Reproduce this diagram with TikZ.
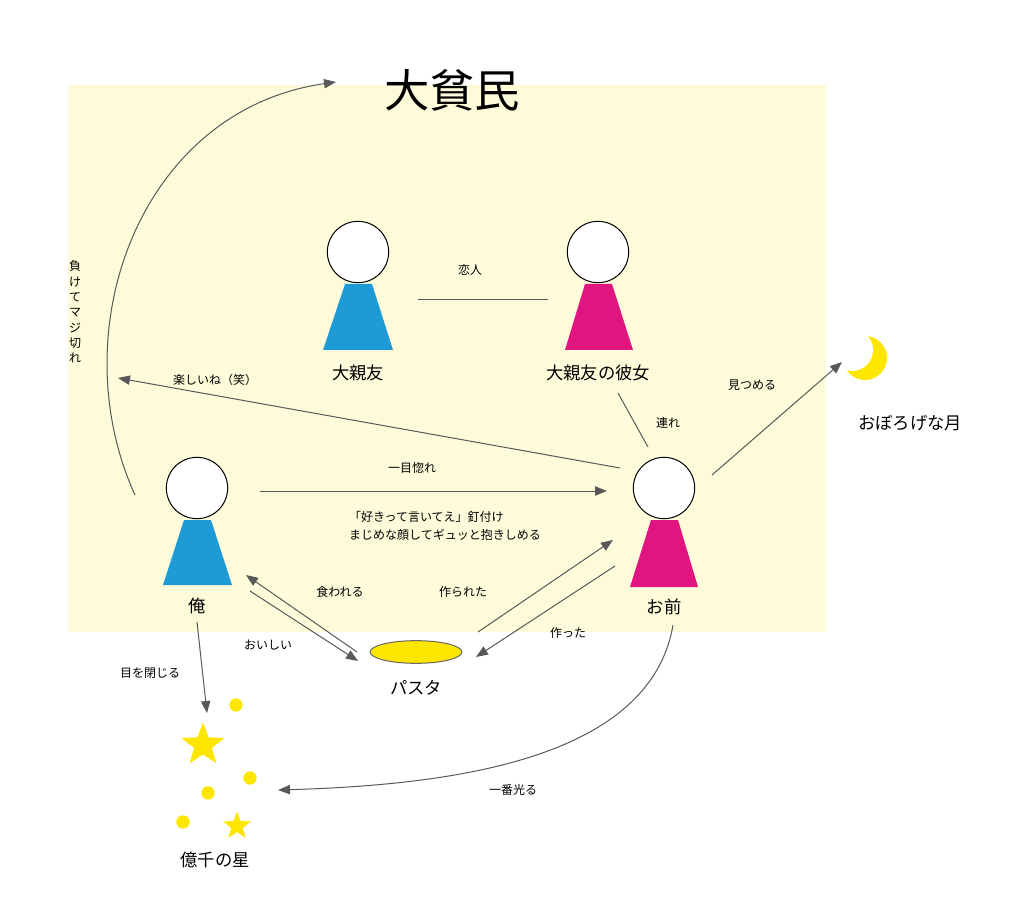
\documentclass[tikz,border=0pt]{standalone}
\usepackage{fontspec}
\setmainfont{Noto Sans CJK JP}
\usetikzlibrary{shapes.geometric,arrows.meta}
\definecolor{bgyel}{RGB}{253,251,218}
\definecolor{kblue}{RGB}{30,155,215}
\definecolor{kpink}{RGB}{224,21,127}
\definecolor{kyel}{RGB}{255,230,0}
\tikzset{every picture/.style={line width=0.75pt},
  lbl/.style={font=\fontsize{9}{10}\selectfont, inner sep=0.75pt},
  pname/.style={font=\fontsize{13}{14}\selectfont, inner sep=0.75pt},
  head/.style={circle, draw, fill=white, minimum size=46pt, inner sep=0pt},
  conn/.style={draw=black!65, -{Triangle[length=9pt,width=7pt]}},
  plain/.style={draw=black!65},
  dot/.style={circle, fill=kyel, inner sep=0pt, minimum size=10pt},
  bigstar/.style={star, star points=5, star point ratio=2.4, fill=kyel, inner sep=0pt}}
\begin{document}
\begin{tikzpicture}[x=0.75pt,y=0.75pt,yscale=-1,xscale=1]
\useasboundingbox (0,0) rectangle (1024,912);
%background
\fill[bgyel] (68,85) rectangle (826,632);

%persons
\fill[kblue] (345,284) -- (372,284) -- (393,350) -- (323,350) -- cycle;
\node[head] (shinyu) at (358,252) {};
\node[pname] (shinyut) at (358,373) {大親友};
\fill[kpink] (585,284) -- (612,284) -- (633,350) -- (565,350) -- cycle;
\node[head] (kanojo) at (598,252) {};
\node[pname] (kanojot) at (598,373) {大親友の彼女};
\fill[kblue] (184,520) -- (211,520) -- (232,585) -- (163,585) -- cycle;
\node[head] (ore) at (197,488) {};
\node[pname] (oret) at (197,606) {俺};
\fill[kpink] (651,520) -- (678,520) -- (698,587) -- (630,587) -- cycle;
\node[head] (omae) at (664,488) {};
\node[pname] (omaet) at (664,607) {お前};

%pasta
\node[ellipse, draw=black!60, fill=kyel, minimum width=69pt, minimum height=17pt, inner sep=0pt] (pasta) at (416,652) {};
\node[pname] (pastat) at (416,688) {パスタ};

%moon
\fill[kyel] (865,358) circle (22);
\fill[white] (852,350) circle (21);
\node[pname] (moont) at (910,423) {おぼろげな月};

%stars
\node[bigstar, minimum size=34pt] (st1) at (203,745) {};
\node[bigstar, minimum size=22pt] (st2) at (237,826) {};
\node[dot] (d1) at (236,705) {};
\node[dot] (d2) at (250,778) {};
\node[dot] (d3) at (208,793) {};
\node[dot] (d4) at (183,822) {};
\node[pname] (start) at (215,860) {億千の星};

\node[font=\fontsize{34}{36}\selectfont, inner sep=0pt] (daihin) at (452,90) {大貧民};

%connectors
\coordinate (c1) at (418,300); \coordinate (c2) at (548,300);
\draw[plain] (c1) -- (c2);
\coordinate (c3) at (620,468); \coordinate (c4) at (118,378);
\draw[conn] (c3) -- (c4);
\coordinate (c5) at (618,393); \coordinate (c6) at (648,447);
\draw[plain] (c5) -- (c6);
\coordinate (c7) at (712,475); \coordinate (c8) at (842,362);
\draw[conn] (c7) -- (c8);
\coordinate (c9) at (260,491); \coordinate (c10) at (607,491);
\draw[conn] (c9) -- (c10);
\coordinate (c11) at (357,652); \coordinate (c12) at (246,575);
\draw[conn] (c11) -- (c12);
\coordinate (c13) at (250,591); \coordinate (c14) at (358,661);
\draw[conn] (c13) -- (c14);
\coordinate (c15) at (478,632); \coordinate (c16) at (613,540);
\draw[conn] (c15) -- (c16);
\coordinate (c17) at (615,566); \coordinate (c18) at (476,657);
\draw[conn] (c17) -- (c18);
\coordinate (c19) at (197,622); \coordinate (c20) at (207,713);
\draw[conn] (c19) -- (c20);
\coordinate (c21) at (673,625); \coordinate (c22) at (278,790);
\draw[conn] (c21) .. controls (650,760) and (450,785) .. (c22);
\coordinate (c23) at (135,495); \coordinate (c24) at (336,82);
\draw[conn] (c23) .. controls (60,330) and (140,110) .. (c24);

%labels
\node[lbl] at (470,270) {恋人};
\node[lbl] at (215,380) {楽しいね（笑）};
\node[lbl] at (668,423) {連れ};
\node[lbl] at (752,385) {見つめる};
\node[lbl] at (412,468) {一目惚れ};
\node[lbl, align=left] at (445,526) {「好きって言いてえ」釘付け\\[4pt]まじめな顔してギュッと抱きしめる};
\node[lbl] at (340,592) {食われる};
\node[lbl] at (463,592) {作られた};
\node[lbl] at (268,645) {おいしい};
\node[lbl] at (568,633) {作った};
\node[lbl] at (150,673) {目を閉じる};
\node[lbl] at (513,790) {一番光る};
\node[lbl, align=center, font=\fontsize{9}{11.5}\selectfont] at (75,312) {負\\け\\て\\マ\\ジ\\切\\れ};
\end{tikzpicture}
\end{document}
